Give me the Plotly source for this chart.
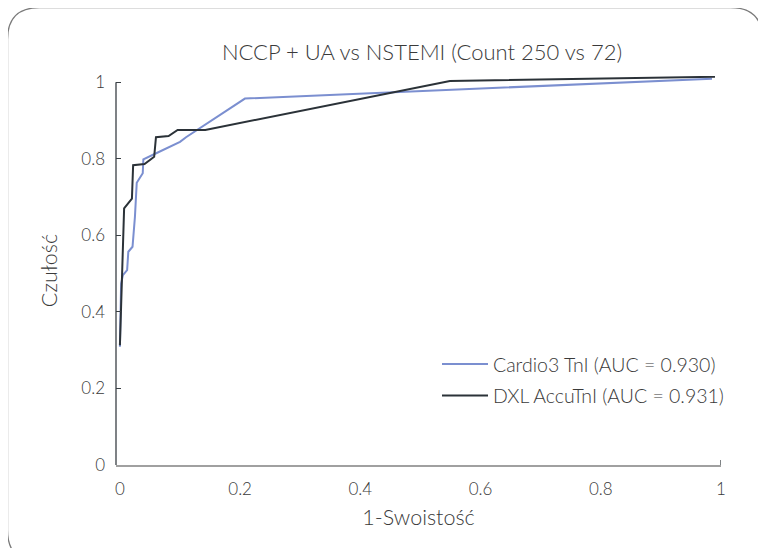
import plotly.graph_objects as go

title_text = "NCCP + UA vs NSTEMI (Count 250 vs 72)"
x_title = "1-Swoistość"
y_title = "Czułość"

cardio_name = "Cardio3 TnI (AUC = 0.930)"
cardio_fpr = [0.000, 0.002, 0.005, 0.012, 0.014, 0.021, 0.025, 0.028, 0.038, 0.039, 0.056, 0.100, 0.110, 0.208, 0.985]
cardio_tpr = [0.309, 0.474, 0.496, 0.509, 0.557, 0.570, 0.648, 0.737, 0.762, 0.798, 0.811, 0.844, 0.856, 0.957, 1.009]

dxl_name = "DXL AccuTnI (AUC = 0.931)"
dxl_fpr = [0.000, 0.007, 0.020, 0.022, 0.041, 0.057, 0.060, 0.081, 0.096, 0.142, 0.549, 0.990]
dxl_tpr = [0.313, 0.670, 0.696, 0.783, 0.786, 0.805, 0.856, 0.859, 0.875, 0.875, 1.003, 1.014]

tick_vals = [0, 0.2, 0.4, 0.6, 0.8, 1]
tick_text = ["0", "0.2", "0.4", "0.6", "0.8", "1"]

# page body has an 8px margin: work in screen pixels, convert to figure pixels
OFF = 8
W, H = 766 - OFF, 548 - OFF
X0S, X1S, Y0S, Y1S = 116, 721, 465, 76.3   # plot area in screen px
ML = X0S - OFF
MR = W - (X1S - OFF)
MT = Y1S - OFF
MB = H - (Y0S - OFF)
PW, PH = W - ML - MR, H - MT - MB

def px(xs):
    return (xs - X0S) / PW

def py(ys):
    return (Y0S - ys) / PH

FONT = "Lato, 'Open Sans', sans-serif"
TXT = "#3a3a3a"

fig = go.Figure()
fig.add_trace(go.Scatter(x=cardio_fpr, y=cardio_tpr, mode="lines", name=cardio_name,
                         legendgroup="a", line=dict(color="#7b8fd0", width=2)))
fig.add_trace(go.Scatter(x=dxl_fpr, y=dxl_tpr, mode="lines", name=dxl_name,
                         legendgroup="b", line=dict(color="#2b3238", width=2)))

# rounded frame (screen px)
L, R, T, B, r = 7.5, 762.5, 8, 562, 32
path = (f"M {px(L)} {py(T + r)} Q {px(L)} {py(T)} {px(L + r)} {py(T)} "
        f"L {px(R - r)} {py(T)} Q {px(R)} {py(T)} {px(R)} {py(T + r)} "
        f"L {px(R)} {py(B - r)} Q {px(R)} {py(B)} {px(R - r)} {py(B)} "
        f"L {px(L + r)} {py(B)} Q {px(L)} {py(B)} {px(L)} {py(B - r)} Z")
shapes = [
    dict(type="path", xref="paper", yref="paper", path=path,
         line=dict(color="#7a7a7a", width=1.3), layer="below"),
    dict(type="line", xref="paper", yref="y", x0=0, x1=0, y0=0, y1=1,
         line=dict(color="#3a3f44", width=1.3)),
    dict(type="line", xref="x", yref="paper", x0=1, x1=1, y0=0, y1=5 / PH,
         line=dict(color="#3a3f44", width=1.3)),
]

fig.update_layout(
    width=W, height=H,
    margin=dict(l=ML, r=MR, t=MT, b=MB),
    paper_bgcolor="white", plot_bgcolor="white",
    font=dict(family=FONT, color=TXT, size=16, weight=300),
    title=dict(text=title_text, x=(422 - OFF) / W, xref="container", xanchor="center",
               y=1 - (52 - OFF) / H, yref="container", yanchor="middle",
               font=dict(size=22, color=TXT, family=FONT, weight=300)),
    xaxis=dict(range=[-0.0065, 1.0], tickvals=tick_vals, ticktext=tick_text,
               showgrid=False, zeroline=False, showline=True, linecolor="#a0a0a0",
               linewidth=1.5, ticks="", ticklabelstandoff=8,
               tickfont=dict(size=17, color=TXT, weight=300),
               title=dict(text=x_title, font=dict(size=21.5, color=TXT, weight=300), standoff=12)),
    yaxis=dict(range=[0, 1.016], tickvals=tick_vals, ticktext=tick_text,
               showgrid=False, zeroline=False, showline=False,
               ticks="inside", ticklen=5, tickcolor="#3a3f44", tickwidth=1.3,
               ticklabelstandoff=10,
               tickfont=dict(size=17, color=TXT, weight=300),
               title=dict(text=y_title, font=dict(size=21.5, color=TXT, weight=300), standoff=17)),
    legend=dict(x=px(437), y=py(345), xanchor="left", yanchor="top",
                bgcolor="rgba(0,0,0,0)", font=dict(size=19.5, color=TXT, weight=300),
                tracegroupgap=3, itemwidth=46),
    shapes=shapes,
    showlegend=True,
)

fig.write_html("out.html")
